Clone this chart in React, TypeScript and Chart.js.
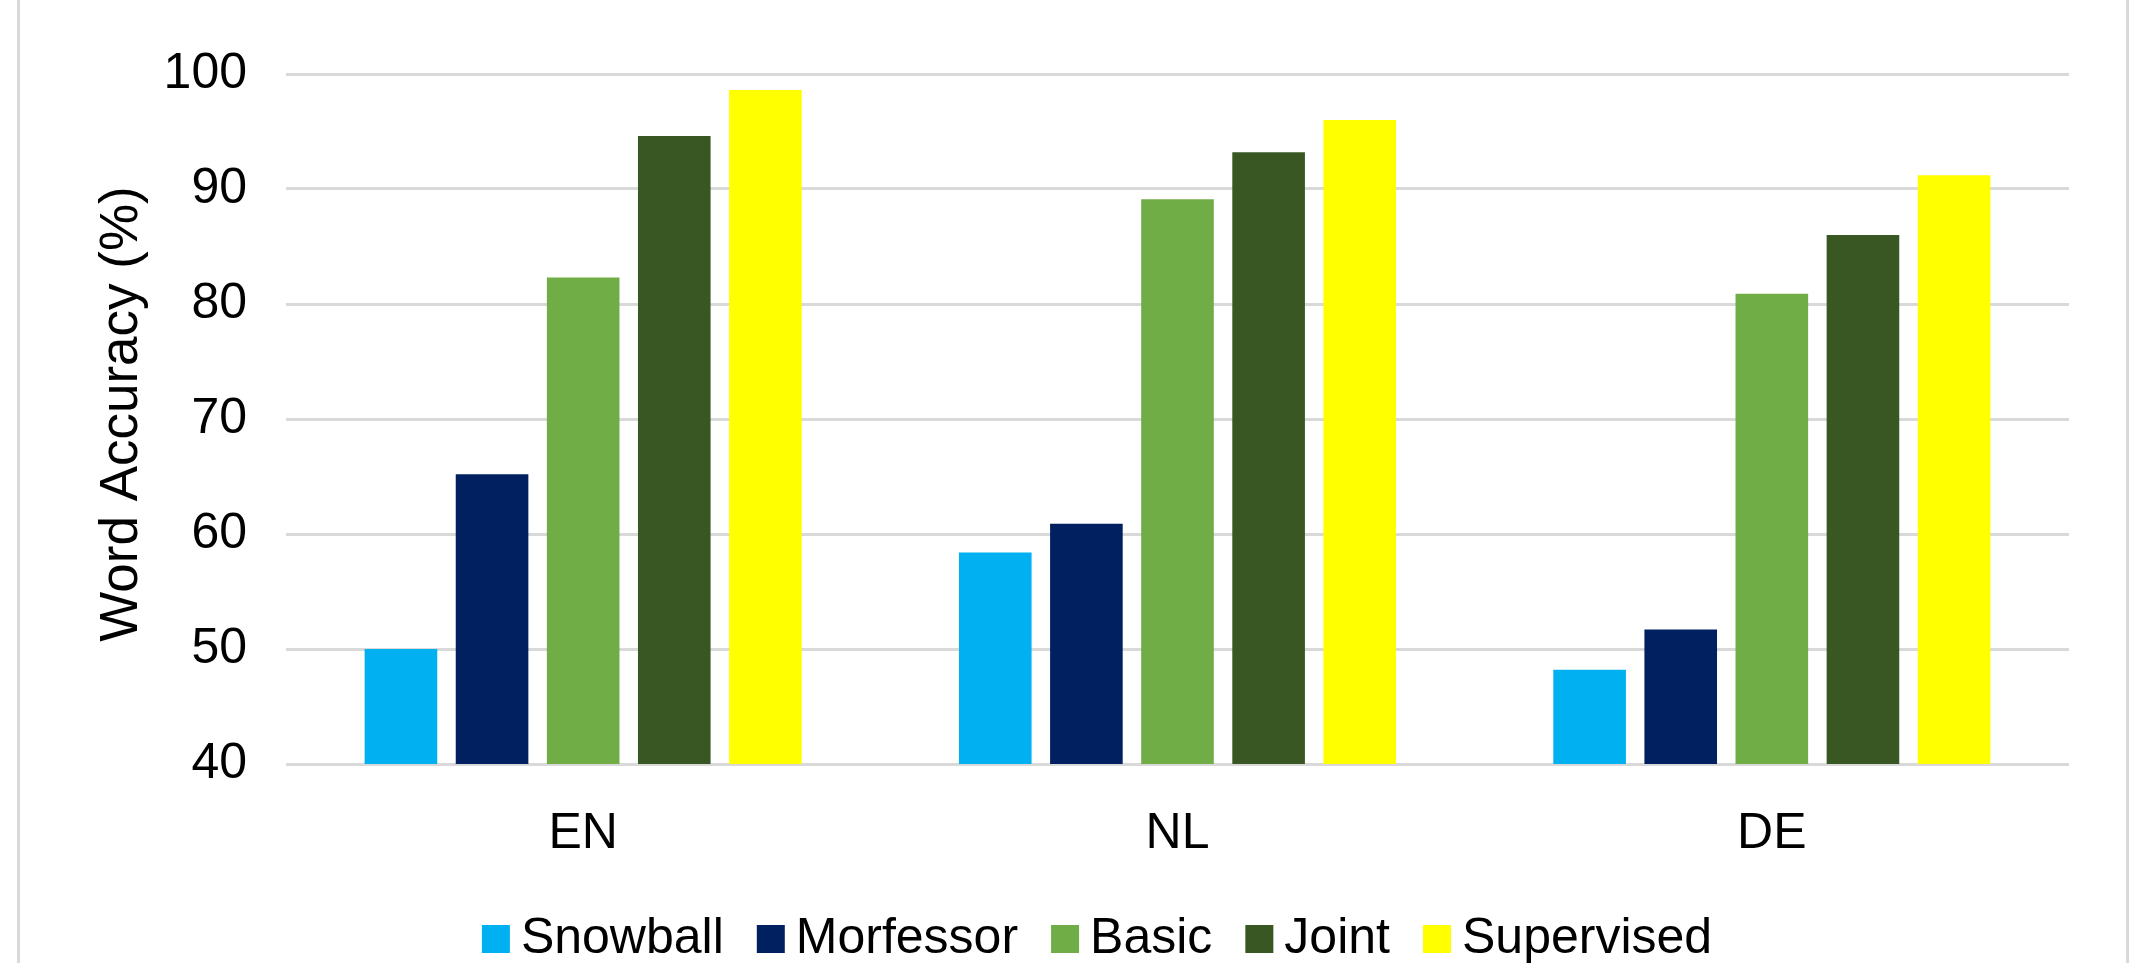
import React, { useEffect, useRef } from 'react';
import { Chart, registerables } from 'chart.js';

Chart.register(...registerables);

const categories = ['EN', 'NL', 'DE'];
const seriesNames = ['Snowball', 'Morfessor', 'Basic', 'Joint', 'Supervised'];
const snowball = [50.0, 58.4, 48.2];
const morfessor = [65.2, 60.9, 51.7];
const basic = [82.3, 89.1, 80.9];
const joint = [94.6, 93.2, 86.0];
const supervised = [98.6, 96.0, 91.2];
const seriesColors = ['#00B0F0', '#002060', '#70AD47', '#385723', '#FFFF00'];
const yTicks = [40, 50, 60, 70, 80, 90, 100];
const yTitle = 'Word Accuracy (%)';

const FONT = 'Arial, "Liberation Sans", sans-serif';
const W = 2149;
const H = 963;

const framePlugin = {
  id: 'frame',
  beforeDraw(chart: any) {
    const { ctx, width, height } = chart;
    ctx.save();
    ctx.fillStyle = '#ffffff';
    ctx.fillRect(0, 0, width, height);
    ctx.fillStyle = '#d9d9d9';
    ctx.fillRect(17, 0, 3, height);
    ctx.fillRect(2126, 0, 3, height);
    ctx.restore();
  },
  afterDraw(chart: any) {
    const { ctx, chartArea } = chart;
    ctx.save();
    ctx.translate(137, (chartArea.top + chartArea.bottom) / 2 - 5);
    ctx.rotate(-Math.PI / 2);
    ctx.font = `53px ${FONT}`;
    ctx.fillStyle = '#000000';
    ctx.textAlign = 'center';
    ctx.textBaseline = 'alphabetic';
    ctx.fillText(yTitle, 0, 0);
    ctx.restore();
  },
};

export default function App() {
  const ref = useRef<HTMLCanvasElement | null>(null);

  useEffect(() => {
    document.body.style.margin = '0';
    document.body.style.overflow = 'hidden';
    const canvas = ref.current;
    if (!canvas) return;
    const values = [snowball, morfessor, basic, joint, supervised];
    const chart = new Chart(canvas, {
      type: 'bar',
      data: {
        labels: categories,
        datasets: seriesNames.map((name, i) => ({
          label: name,
          data: values[i],
          backgroundColor: seriesColors[i],
          borderWidth: 0,
          categoryPercentage: 0.7665,
          barPercentage: 0.797,
        })),
      },
      options: {
        responsive: false,
        animation: false,
        devicePixelRatio: 1,
        layout: { padding: { left: 139, right: 80, top: 74, bottom: -11 } },
        scales: {
          x: {
            grid: { display: false },
            border: { display: false },
            ticks: { font: { size: 50, family: FONT }, color: '#000000', padding: 32 },
            afterFit: (s: any) => {
              s.height = 103;
            },
          },
          y: {
            min: 40,
            max: 100,
            grid: { color: '#d9d9d9', lineWidth: 3, drawTicks: false },
            border: { display: false },
            ticks: { stepSize: 10, font: { size: 50, family: FONT }, color: '#000000', padding: 39 },
            afterBuildTicks: (s: any) => {
              s.ticks = yTicks.map((v) => ({ value: v }));
            },
            afterFit: (s: any) => {
              s.width = 147;
            },
          },
        },
        plugins: {
          legend: {
            position: 'bottom',
            labels: {
              usePointStyle: true,
              pointStyle: 'rect',
              boxWidth: 0.01,
              boxHeight: 28,
              padding: 47,
              font: { size: 50, family: FONT },
              color: '#000000',
            },
          },
          tooltip: { enabled: false },
          title: { display: false },
        },
      },
      plugins: [framePlugin],
    } as any);
    return () => chart.destroy();
  }, []);

  return (
    <div style={{ width: W, height: H }}>
      <canvas ref={ref} width={W} height={H} style={{ display: 'block' }} />
    </div>
  );
}
